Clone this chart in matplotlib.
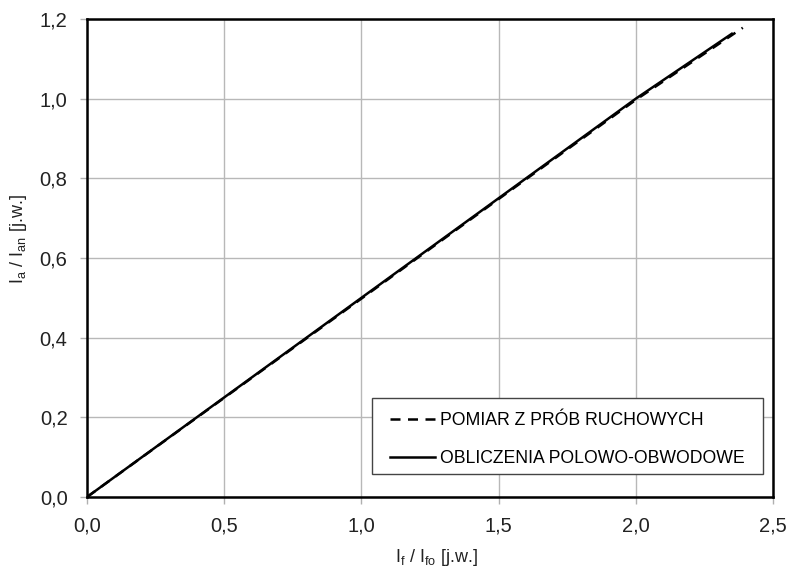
import matplotlib
matplotlib.use("Agg")
import matplotlib.pyplot as plt
from matplotlib.patches import Rectangle

plt.rcParams['font.family'] = ['Liberation Sans', 'DejaVu Sans']
plt.rcParams['mathtext.fontset'] = 'custom'
plt.rcParams['mathtext.rm'] = 'Liberation Sans'

# data
meas_x = [0.0, 0.5, 1.0, 1.5, 2.0, 2.39]
meas_y = [0.0, 0.249, 0.498, 0.748, 0.997, 1.178]
calc_x = [0.0, 0.5, 1.0, 1.5, 2.0, 2.35]
calc_y = [0.0, 0.25, 0.50, 0.75, 1.0, 1.163]
xticks = [0.0, 0.5, 1.0, 1.5, 2.0, 2.5]
yticks = [0.0, 0.2, 0.4, 0.6, 0.8, 1.0, 1.2]
labels = ['POMIAR Z PRÓB RUCHOWYCH', 'OBLICZENIA POLOWO-OBWODOWE']

fig = plt.figure(figsize=(7.91, 5.69), dpi=100)
ax = fig.add_axes([87/791, 72/569, 686/791, 478/569])

ax.plot(meas_x, meas_y, color='black', lw=1.8, ls=(0, (4, 3)), label=labels[0])
ax.plot(calc_x, calc_y, color='black', lw=1.8, ls='-', label=labels[1])

ax.set_xlim(0, 2.5)
ax.set_ylim(0, 1.2)
ax.set_xticks(xticks)
ax.set_yticks(yticks)
ax.set_xticklabels([f"{v:.1f}".replace('.', ',') for v in xticks])
ax.set_yticklabels([f"{v:.1f}".replace('.', ',') for v in yticks])
ax.grid(True, color='#b8b8b8', lw=1.0)
ax.set_axisbelow(True)
ax.tick_params(direction='out', length=5, width=1, color='#b0b0b0',
               labelsize=14.5, labelcolor='#222222')
ax.tick_params(axis='x', pad=9)
ax.tick_params(axis='y', pad=9)
for s in ax.spines.values():
    s.set_color('black')
    s.set_linewidth(1.8)

ax.set_xlabel(r'I$_\mathregular{f}$ / I$_\mathregular{fo}$ [j.w.]', fontsize=13,
              color='#222222')
ax.xaxis.set_label_coords(0.51, -0.104)
ax.set_ylabel(r'I$_\mathregular{a}$ / I$_\mathregular{an}$ [j.w.]', fontsize=13,
              color='#222222')
ax.yaxis.set_label_coords(-0.084, 0.54)

leg = ax.legend(loc='upper left', bbox_to_anchor=(0.4417, 0.177), fontsize=12.7,
                frameon=False, handlelength=2.55, handletextpad=0.3,
                labelspacing=1.15, borderpad=0, borderaxespad=0)
ax.add_patch(Rectangle((0.4155, 0.0481), 0.5699, 0.159, transform=ax.transAxes,
                       facecolor='white', edgecolor='#444444', lw=1.0, zorder=4))
leg.set_zorder(5)

fig.savefig('out.png', dpi=100)
